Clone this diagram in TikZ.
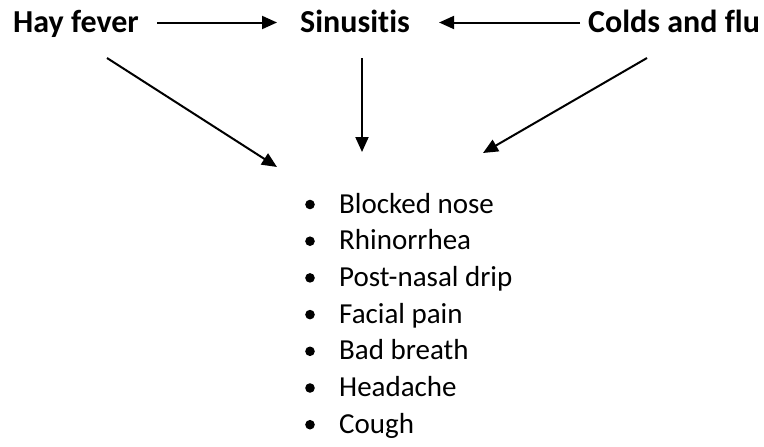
\documentclass[tikz,border=0pt]{standalone}
\usepackage{fontspec}
\setmainfont{Carlito}[Ligatures=NoCommon]
\usetikzlibrary{arrows.meta,calc}
\begin{document}
\begin{tikzpicture}[x=1pt,y=-1pt,
  head/.style={font=\fontsize{32}{38}\selectfont\bfseries, inner sep=0pt, anchor=base west},
  item/.style={font=\fontsize{29}{35}\selectfont, inner sep=0pt, anchor=base west},
  arr/.style={line width=2pt, -{Triangle[length=15pt,width=13pt]}},
  dot/.style={fill=black}]
\useasboundingbox (0,0) rectangle (764,447);
\node[head] (hay) at (13,32) {Hay fever};
\node[head] (sin) at (300,32) {Sinusitis};
\node[head] (cold) at (588,32) {Colds and flu};
\foreach \t [count=\i from 0] in {Blocked nose,Rhinorrhea,Post-nasal drip,Facial pain,Bad breath,Headache,Cough}{
  \node[item] (it\i) at (339,213+36.7*\i) {\t};
  \fill[dot] (310,213+36.7*\i-8.5) circle (4.8pt);
}
\coordinate (tipL) at (277,167);
\coordinate (tipM) at (362,152);
\coordinate (tipR) at (483,153);
\draw[arr] ($(hay.base east)+(18,-9.5)$) -- ($(sin.base west)+(-23,-9.5)$);
\draw[arr] ($(cold.base west)+(-8,-9.5)$) -- ($(sin.base east)+(29,-9.5)$);
\draw[arr] ($(hay.base west)+(94,26)$) -- (tipL);
\draw[arr] ($(sin.base west)+(62,26)$) -- (tipM);
\draw[arr] ($(cold.base west)+(59,26)$) -- (tipR);
\end{tikzpicture}
\end{document}
